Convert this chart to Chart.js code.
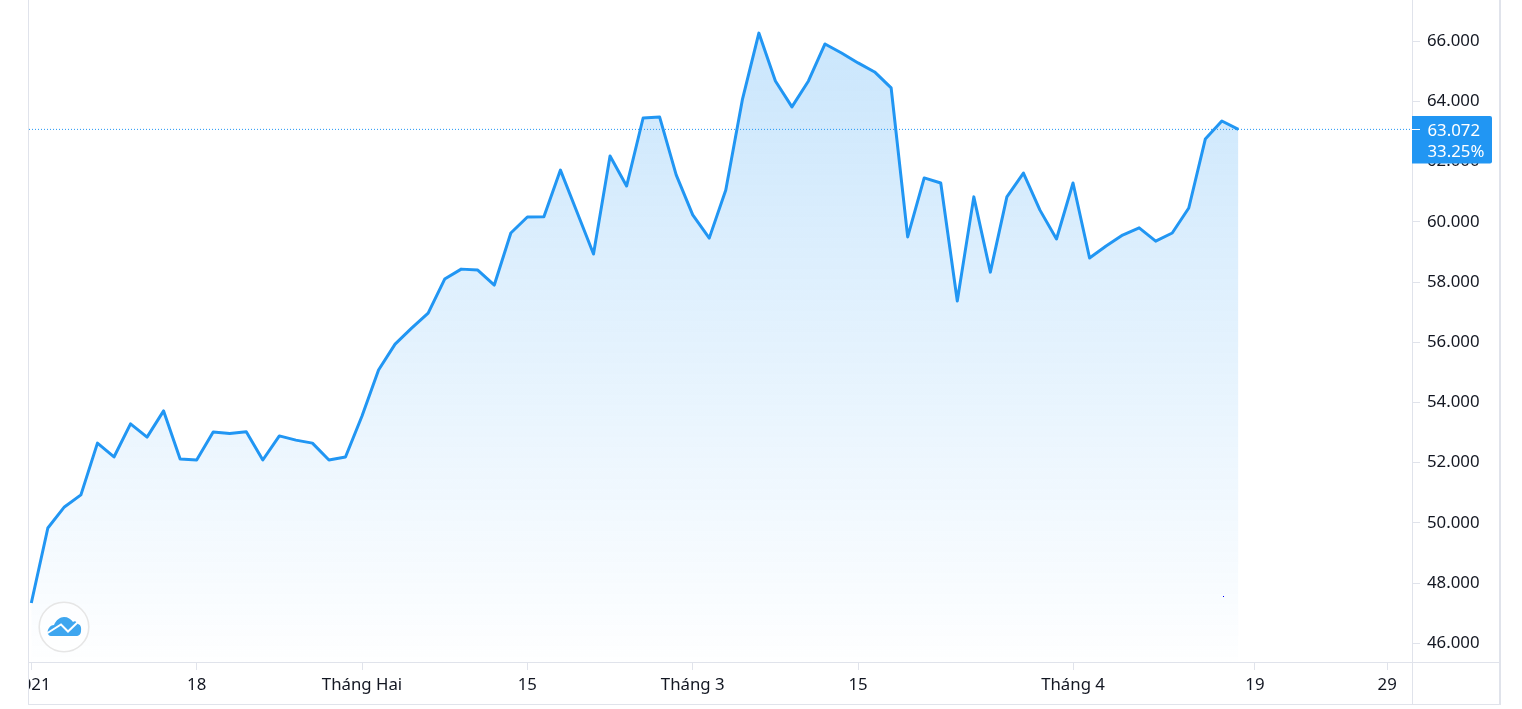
<!DOCTYPE html>
<html>
<head>
<meta charset="utf-8">
<title>Chart</title>
<script src="https://cdn.jsdelivr.net/npm/chart.js@4/dist/chart.umd.js"></script>
<style>
    html, body { margin: 0; padding: 0; background: #fff; overflow: hidden; }
    #frame { position: absolute; left: 28px; top: -2px; width: 1470px; height: 705px; border: 1px solid #e0e3eb; border-right-width: 2px; }
    #chart { position: absolute; left: 29px; top: 0; }
    #logo { position: absolute; left: 37px; top: 600px; }
    #speck { position: absolute; left: 1223px; top: 596px; width: 1px; height: 1px; background: #0000ff; }
</style>
</head>
<body>
<div id="frame"></div>
<canvas id="chart" width="1470" height="704"></canvas>
<svg id="logo" width="54" height="54" viewBox="0 0 54 54">
    <circle cx="27" cy="27" r="24.8" fill="#fff" fill-opacity="0.6" stroke="#e6e6e6" stroke-width="1.6"/>
    <path d="M14 36 C10 36 10 30 12 28 C13 26 15 25 17 25 C19 20 23 17 27 17 C31 17 34 19 36 22 C38 20 40 22 41 24 C44 25 44.5 28 44 31 C44 34 42 36 39 36 Z" fill="#3ea6ef"/>
    <path d="M10.5 33 L24 24.5 L31 31.5 L42 21" fill="none" stroke="#fff" stroke-width="2"/>
</svg>
<div id="speck"></div>

<script>
const prices = [
    47340, 49830, 50530, 50930, 52650, 52190, 53290, 52850, 53720, 52120,
    52090, 53020, 52970, 53030, 52090, 52890, 52750, 52650, 52090, 52190,
    53550, 55080, 55940, 56470, 56970, 58100, 58430, 58400, 57900, 59630,
    60160, 60170, 61720, 60330, 58930, 62190, 61190, 63450, 63480, 61560,
    60230, 59460, 61060, 64050, 66270, 64680, 63820, 64680, 65910, 65610,
    65280, 64980, 64450, 59500, 61460, 61290, 57370, 60830, 58330, 60830,
    61620, 60390, 59430, 61290, 58800, 59200, 59560, 59800, 59360, 59630,
    60460, 62750, 63350, 63072
];
const xTickPositions = [0, 10, 20, 30, 40, 50, 63, 74, 82];
const xTickLabels = ['2021', '18', 'Tháng Hai', '15', 'Tháng 3', '15', 'Tháng 4', '19', '29'];
const yTicks = [46000, 48000, 50000, 52000, 54000, 56000, 58000, 60000, 62000, 64000, 66000];
const lastPrice = 63072;
const lastLabels = ['63.072', '33.25%'];

const FONT = '"Noto Sans", sans-serif';
const FONT_SIZE = 16.8;
const TEXT = '#131722';
const LINE = '#e0e3eb';
const BLUE = '#2196f3';

const xRange = { min: -0.14, max: 83.5 };
const yRange = { min: 45379, max: 67370 };

function areaGradient(context) {
    const { ctx, chartArea, scales } = context.chart;
    if (!chartArea) return 'transparent';
    const top = scales.y.getPixelForValue(Math.max(...prices));
    const g = ctx.createLinearGradient(0, top, 0, chartArea.bottom);
    g.addColorStop(0, 'rgba(33,150,243,0.24)');
    g.addColorStop(1, 'rgba(33,150,243,0.005)');
    return g;
}

// axis lines that run past the plot, and the last price tag
const overlay = {
    id: 'overlay',
    afterDraw(chart) {
        const { ctx, chartArea, scales } = chart;
        ctx.save();
        ctx.strokeStyle = LINE;
        ctx.lineWidth = 1;
        ctx.beginPath();
        ctx.moveTo(0, chartArea.bottom + 0.5);
        ctx.lineTo(chart.width, chartArea.bottom + 0.5);
        ctx.moveTo(chartArea.right + 0.5, 0);
        ctx.lineTo(chartArea.right + 0.5, chart.height);
        ctx.stroke();

        const y = scales.y.getPixelForValue(lastPrice);
        const left = chartArea.right;
        ctx.fillStyle = BLUE;
        ctx.beginPath();
        ctx.roundRect(left, y - 13.5, 80, 47.5, [0, 2, 2, 0]);
        ctx.fill();
        ctx.strokeStyle = '#fff';
        ctx.beginPath();
        ctx.moveTo(left, Math.round(y) + 0.5);
        ctx.lineTo(left + 8, Math.round(y) + 0.5);
        ctx.stroke();
        ctx.fillStyle = '#fff';
        ctx.font = FONT_SIZE + 'px ' + FONT;
        ctx.textBaseline = 'middle';
        ctx.fillText(lastLabels[0], left + 15.5, y + 1.5);
        ctx.fillText(lastLabels[1], left + 15.5, y + 22.5);
        ctx.restore();
    }
};

new Chart(document.getElementById('chart').getContext('2d'), {
    type: 'line',
    data: {
        datasets: [{
            data: prices.map((p, i) => ({ x: i, y: p })),
            borderColor: BLUE,
            borderWidth: 3,
            backgroundColor: areaGradient,
            fill: 'start',
            pointRadius: 0,
            tension: 0,
            borderJoinStyle: 'round'
        }, {
            data: [{ x: xRange.min, y: lastPrice }, { x: xRange.max, y: lastPrice }],
            borderColor: BLUE,
            borderWidth: 1,
            borderDash: [1, 2],
            pointRadius: 0,
            fill: false
        }]
    },
    options: {
        responsive: false,
        animation: false,
        events: [],
        layout: { padding: 0 },
        plugins: { legend: { display: false }, tooltip: { enabled: false } },
        scales: {
            x: {
                type: 'linear',
                min: xRange.min,
                max: xRange.max,
                afterBuildTicks: s => { s.ticks = xTickPositions.map(v => ({ value: v })); },
                afterFit: s => { s.height = 42; s.paddingLeft = 0; s.paddingRight = 0; },
                grid: { drawOnChartArea: false, color: LINE, tickLength: 8 },
                border: { color: LINE },
                ticks: {
                    autoSkip: false,
                    maxRotation: 0,
                    padding: 5,
                    color: TEXT,
                    font: { family: FONT, size: FONT_SIZE },
                    callback: v => xTickLabels[xTickPositions.indexOf(v)]
                }
            },
            y: {
                position: 'right',
                min: yRange.min,
                max: yRange.max,
                afterBuildTicks: s => { s.ticks = yTicks.map(v => ({ value: v })); },
                afterFit: s => { s.width = 87; s.paddingTop = 0; s.paddingBottom = 0; },
                grid: { drawOnChartArea: false, color: LINE, tickLength: 8 },
                border: { color: LINE },
                ticks: {
                    padding: 7,
                    color: TEXT,
                    font: { family: FONT, size: FONT_SIZE },
                    callback: v => v.toLocaleString('de-DE')
                }
            }
        }
    },
    plugins: [overlay]
});
</script>
</body>
</html>
